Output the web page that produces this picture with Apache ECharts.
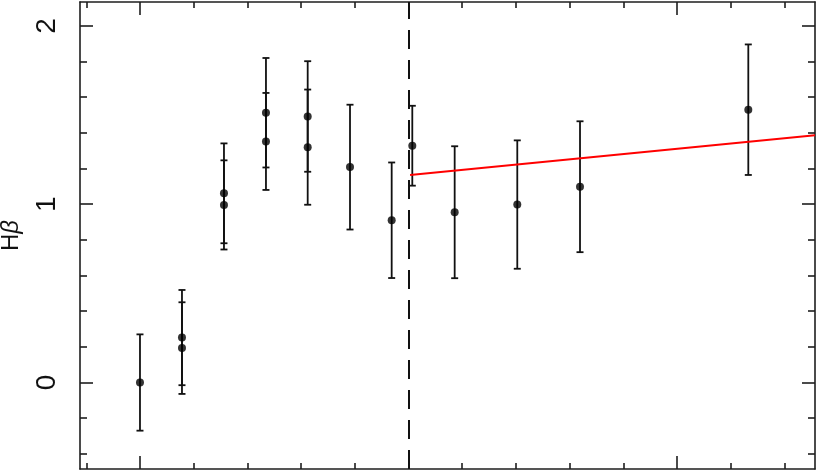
<!DOCTYPE html>
<html>
<head>
<meta charset="utf-8">
<script src="https://cdn.jsdelivr.net/npm/echarts@6/dist/echarts.min.js"></script>
<style>
html,body{margin:0;padding:0;background:#fff;}
#chart{width:817px;height:472px;}
</style>
</head>
<body>
<div id="chart"></div>
<script>
// ---- data ----
const xVals = [0, 0.782, 0.782, 1.564, 1.564, 2.346, 2.346, 3.123, 3.123, 3.911, 4.687, 5.071, 5.86, 7.026, 8.194, 11.328];
const yVals = [0.0, 0.252, 0.193, 1.061, 0.996, 1.513, 1.352, 1.492, 1.320, 1.208, 0.910, 1.328, 0.955, 0.998, 1.098, 1.530];
const yErr  = [0.27, 0.267, 0.257, 0.28, 0.25, 0.307, 0.272, 0.31, 0.323, 0.35, 0.324, 0.224, 0.37, 0.36, 0.367, 0.366];
const fitX = [5.03, 12.57];
const fitY = [1.164, 1.387];
const cutX = 5.0;
const xMajorTicks = [0, 5, 10];
const xMinorTicks = [-1, 1, 2, 3, 4, 6, 7, 8, 9, 11, 12];
const yMajorTicks = [0, 1, 2];
const yMinorTicks = [-0.4, -0.2, 0.2, 0.4, 0.6, 0.8, 1.2, 1.4, 1.6, 1.8];
const yTickLabels = ['0', '1', '2'];
const yTitle = 'H{b|β}';

const X_MIN = -1.117, X_MAX = 12.57;
const Y_MIN = -0.485, Y_MAX = 2.134;

const AX = '#1e1e1e';
const LW = 1.6;

const points = xVals.map((x, i) => [x, yVals[i]]);
const bars = xVals.map((x, i) => [x, yVals[i] - yErr[i], yVals[i] + yErr[i]]);
const fit = fitX.map((x, i) => [x, fitY[i]]);

function xAx(pos, ticks, len, line) {
  return {
    type: 'value', position: pos, min: X_MIN, max: X_MAX,
    axisLine: {show: line, onZero: false, lineStyle: {color: AX, width: LW}},
    axisTick: {show: true, inside: true, length: len, customValues: ticks, lineStyle: {color: AX, width: LW}},
    axisLabel: {show: false}, splitLine: {show: false}
  };
}
function yAx(pos, ticks, len, line, labels) {
  return {
    type: 'value', position: pos, min: Y_MIN, max: Y_MAX,
    axisLine: {show: line, onZero: false, lineStyle: {color: AX, width: LW}},
    axisTick: {show: true, inside: true, length: len, customValues: ticks, lineStyle: {color: AX, width: LW}},
    axisLabel: labels ? {
      show: true, rotate: 90, margin: 19, customValues: yMajorTicks,
      fontFamily: 'Liberation Sans', fontSize: 28, color: '#111',
      formatter: function (v) {
        const r = Math.round(v);
        return yTickLabels[r] || '';
      }
    } : {show: false},
    splitLine: {show: false}
  };
}

const yAxisMain = yAx('left', yMajorTicks, 13, true, true);
yAxisMain.name = yTitle;
yAxisMain.nameLocation = 'middle';
yAxisMain.nameRotate = 90;
yAxisMain.nameGap = 57;
yAxisMain.nameTextStyle = {
  fontFamily: 'Liberation Sans', fontSize: 24, color: '#111',
  rich: {b: {fontFamily: 'Liberation Sans', fontStyle: 'italic', fontSize: 24, color: '#111'}}
};

const chart = echarts.init(document.getElementById('chart'), null, {renderer: 'canvas'});
chart.setOption({
  animation: false,
  backgroundColor: '#fff',
  grid: {left: 80, right: 2, top: 2, bottom: 3, containLabel: false, outerBoundsMode: 'none'},
  xAxis: [
    xAx('bottom', xMinorTicks, 6, true),
    xAx('bottom', xMajorTicks, 13, false),
    xAx('top', xMinorTicks, 6, true),
    xAx('top', xMajorTicks, 13, false)
  ],
  yAxis: [
    yAxisMain,
    yAx('left', yMinorTicks, 7, false, false),
    yAx('right', yMajorTicks, 13, true, false),
    yAx('right', yMinorTicks, 7, false, false)
  ],
  series: [
    {
      type: 'custom',
      xAxisIndex: 0, yAxisIndex: 0,
      data: bars,
      renderItem: function (params, api) {
        const x = api.value(0);
        const lo = api.coord([x, api.value(1)]);
        const hi = api.coord([x, api.value(2)]);
        const hw = 3.5;
        const st = {stroke: '#111', lineWidth: 1.8};
        return {
          type: 'group',
          children: [
            {type: 'line', shape: {x1: lo[0], y1: lo[1], x2: hi[0], y2: hi[1]}, style: st},
            {type: 'line', shape: {x1: lo[0] - hw, y1: lo[1], x2: lo[0] + hw, y2: lo[1]}, style: st},
            {type: 'line', shape: {x1: hi[0] - hw, y1: hi[1], x2: hi[0] + hw, y2: hi[1]}, style: st}
          ]
        };
      },
      z: 2
    },
    {
      type: 'scatter',
      xAxisIndex: 0, yAxisIndex: 0,
      data: points,
      symbol: 'circle', symbolSize: 8,
      itemStyle: {color: '#000'},
      z: 3,
      markLine: {
        silent: true, symbol: ['none', 'none'],
        label: {show: false},
        lineStyle: {color: '#111', width: 2, type: [19, 11]},
        data: [{xAxis: cutX}]
      }
    },
    {
      type: 'line',
      xAxisIndex: 0, yAxisIndex: 0,
      data: fit,
      showSymbol: false, symbol: 'none',
      lineStyle: {color: '#ff0000', width: 2},
      z: 4
    }
  ]
});
</script>
</body>
</html>
